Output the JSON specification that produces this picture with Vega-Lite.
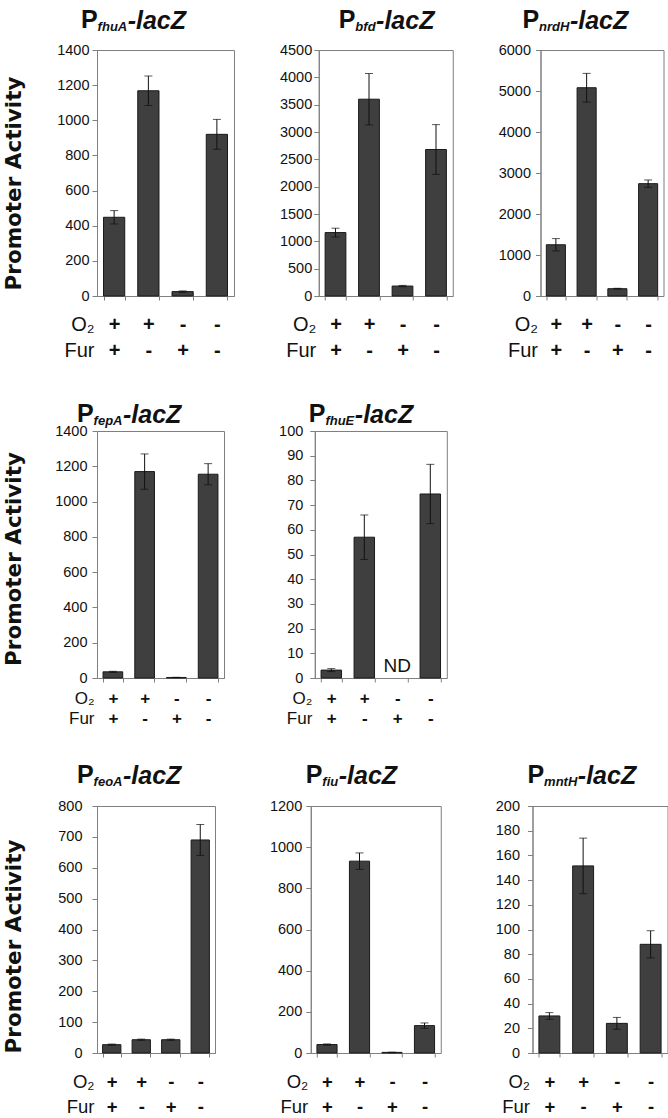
{
  "$schema": "https://vega.github.io/schema/vega-lite/v6.json",
  "background": "white",
  "padding": {"left": 2, "top": 7, "right": 0, "bottom": 0},
  "datasets": {
    "expr": [
      {"panel": "fhuA", "cond": "+|+", "v": 448, "e": 38},
      {"panel": "fhuA", "cond": "+|-", "v": 1168, "e": 84},
      {"panel": "fhuA", "cond": "-|+", "v": 25, "e": 4},
      {"panel": "fhuA", "cond": "-|-", "v": 920, "e": 85},
      {"panel": "bfd", "cond": "+|+", "v": 1160, "e": 80},
      {"panel": "bfd", "cond": "+|-", "v": 3600, "e": 470},
      {"panel": "bfd", "cond": "-|+", "v": 182, "e": 12},
      {"panel": "bfd", "cond": "-|-", "v": 2680, "e": 455},
      {"panel": "nrdH", "cond": "+|+", "v": 1250, "e": 150},
      {"panel": "nrdH", "cond": "+|-", "v": 5080, "e": 350},
      {"panel": "nrdH", "cond": "-|+", "v": 178, "e": 10},
      {"panel": "nrdH", "cond": "-|-", "v": 2740, "e": 90},
      {"panel": "fepA", "cond": "+|+", "v": 35, "e": 3},
      {"panel": "fepA", "cond": "+|-", "v": 1170, "e": 100},
      {"panel": "fepA", "cond": "-|+", "v": 3, "e": 1},
      {"panel": "fepA", "cond": "-|-", "v": 1155, "e": 60},
      {"panel": "fhuE", "cond": "+|+", "v": 3.2, "e": 0.6},
      {"panel": "fhuE", "cond": "+|-", "v": 57, "e": 9},
      {"panel": "fhuE", "cond": "-|-", "v": 74.5, "e": 12},
      {"panel": "feoA", "cond": "+|+", "v": 27, "e": 2},
      {"panel": "feoA", "cond": "+|-", "v": 43, "e": 2},
      {"panel": "feoA", "cond": "-|+", "v": 43, "e": 2},
      {"panel": "feoA", "cond": "-|-", "v": 690, "e": 50},
      {"panel": "fiu", "cond": "+|+", "v": 41, "e": 3},
      {"panel": "fiu", "cond": "+|-", "v": 932, "e": 40},
      {"panel": "fiu", "cond": "-|+", "v": 3, "e": 1},
      {"panel": "fiu", "cond": "-|-", "v": 133, "e": 13},
      {"panel": "mntH", "cond": "+|+", "v": 30, "e": 2.7},
      {"panel": "mntH", "cond": "+|-", "v": 151.5, "e": 22.5},
      {"panel": "mntH", "cond": "-|+", "v": 24, "e": 4.8},
      {"panel": "mntH", "cond": "-|-", "v": 88, "e": 11}
    ],
    "notes": [
      {"panel": "fhuE", "cond": "-|+", "note": "ND", "base": 0}
    ]
  },
  "config": {
    "view": {"stroke": "#7f7f7f", "strokeWidth": 1},
    "axis": {"grid": false},
    "title": {"anchor": "start", "align": "left", "frame": "group", "offset": -26, "subtitlePadding": -12, "font": "Liberation Sans", "fontSize": 25, "fontWeight": "bold", "color": "#111111", "subtitleFont": "Liberation Sans", "subtitleFontSize": 13, "subtitleFontWeight": "bold", "subtitleFontStyle": "italic", "subtitleColor": "#111111"},
    "axisBottom": {"labelExpr": "split(datum.label, '|')", "labelFont": "Liberation Sans", "labelFontWeight": "bold", "labelColor": "#111111", "labelAngle": 0, "labelBaseline": "top", "labelOverlap": false, "labelBound": false, "tickBand": "extent", "tickSize": 4, "tickColor": "#808080", "domainColor": "#808080", "titleFont": "Liberation Sans", "titleFontWeight": "normal", "titleColor": "#111111", "titleAlign": "right", "titleBaseline": "top", "titleX": -3},
    "axisTop": {"labels": false, "ticks": false, "domain": false, "titleFont": "Liberation Sans", "titleFontSize": 25, "titleFontWeight": "bold", "titleFontStyle": "italic", "titleColor": "#111111", "titleAlign": "left", "titleBaseline": "alphabetic"},
    "axisLeft": {"format": "d", "labelFont": "Liberation Sans", "labelFontSize": 14.5, "labelColor": "#111111", "labelFlush": false, "labelOverlap": false, "tickSize": 5, "tickColor": "#808080", "domainColor": "#808080", "titleFont": "DejaVu Sans", "titleFontSize": 21.5, "titleFontWeight": "bold", "titleColor": "#111111"}
  },
  "spacing": 40,
  "vconcat": [
    {
      "hconcat": [
        {
          "width": 137, "height": 246,
          "data": {"name": "expr"},
          "transform": [{"filter": "datum.panel === 'fhuA'"}],
          "title": {"text": "P", "subtitle": "\u200b\u2003\u00a0fhuA", "dx": -16},
          "encoding": {
            "y": {"field": "v", "type": "quantitative", "scale": {"domain": [0, 1400], "nice": false}, "axis": {"orient": "left", "format": "d", "values": [0, 200, 400, 600, 800, 1000, 1200, 1400], "title": "Promoter Activity", "titlePadding": 31.25, "titleY": 133, "labelPadding": 3}}
          },
          "layer": [
            {"mark": {"type": "bar", "fill": "#3f3f3f", "stroke": "#1a1a1a", "strokeWidth": 1},
             "encoding": {
               "x": {"field": "cond", "type": "nominal", "sort": ["+|+", "+|-", "-|+", "-|-"], "scale": {"paddingInner": 0.38, "paddingOuter": 0.19}, "axis": {"orient": "bottom", "title": ["O₂", "Fur"], "labelFontSize": 20, "labelLineHeight": 25.5, "labelPadding": 14.5, "titleFontSize": 20, "titleLineHeight": 25.5, "titleY": 18.5}}
             }},
            {"mark": {"type": "errorbar", "ticks": {"size": 8, "color": "#111111"}, "rule": {"color": "#111111"}},
             "encoding": {
               "x": {"field": "cond", "type": "nominal", "sort": ["+|+", "+|-", "-|+", "-|-"], "axis": {"orient": "top", "title": "-lacZ", "titleX": 30.2, "titleY": -22}},
               "yError": {"field": "e"}
             }}
          ],
          "resolve": {"axis": {"x": "independent"}}
        },
        {
          "width": 134, "height": 246,
          "data": {"name": "expr"},
          "transform": [{"filter": "datum.panel === 'bfd'"}],
          "title": {"text": "P", "subtitle": "\u200b\u2003\u00a0bfd", "dx": 20},
          "encoding": {
            "y": {"field": "v", "type": "quantitative", "scale": {"domain": [0, 4500], "nice": false}, "axis": {"orient": "left", "format": "d", "values": [0, 500, 1000, 1500, 2000, 2500, 3000, 3500, 4000, 4500], "title": null, "labelPadding": 2}}
          },
          "layer": [
            {"mark": {"type": "bar", "fill": "#3f3f3f", "stroke": "#1a1a1a", "strokeWidth": 1},
             "encoding": {
               "x": {"field": "cond", "type": "nominal", "sort": ["+|+", "+|-", "-|+", "-|-"], "scale": {"paddingInner": 0.38, "paddingOuter": 0.19}, "axis": {"orient": "bottom", "title": ["O₂", "Fur"], "labelFontSize": 20, "labelLineHeight": 25.5, "labelPadding": 14.5, "titleFontSize": 20, "titleLineHeight": 25.5, "titleY": 18.5}}
             }},
            {"mark": {"type": "errorbar", "ticks": {"size": 8, "color": "#111111"}, "rule": {"color": "#111111"}},
             "encoding": {
               "x": {"field": "cond", "type": "nominal", "sort": ["+|+", "+|-", "-|+", "-|-"], "axis": {"orient": "top", "title": "-lacZ", "titleX": 56.8, "titleY": -22}},
               "yError": {"field": "e"}
             }}
          ],
          "resolve": {"axis": {"x": "independent"}}
        },
        {
          "width": 123, "height": 246,
          "data": {"name": "expr"},
          "transform": [{"filter": "datum.panel === 'nrdH'"}],
          "title": {"text": "P", "subtitle": "\u200b\u2003\u00a0nrdH", "dx": -18},
          "encoding": {
            "y": {"field": "v", "type": "quantitative", "scale": {"domain": [0, 6000], "nice": false}, "axis": {"orient": "left", "format": "d", "values": [0, 1000, 2000, 3000, 4000, 5000, 6000], "title": null, "labelPadding": 5}}
          },
          "layer": [
            {"mark": {"type": "bar", "fill": "#3f3f3f", "stroke": "#1a1a1a", "strokeWidth": 1},
             "encoding": {
               "x": {"field": "cond", "type": "nominal", "sort": ["+|+", "+|-", "-|+", "-|-"], "scale": {"paddingInner": 0.38, "paddingOuter": 0.19}, "axis": {"orient": "bottom", "title": ["O₂", "Fur"], "labelFontSize": 20, "labelLineHeight": 25.5, "labelPadding": 14.5, "titleFontSize": 20, "titleLineHeight": 25.5, "titleY": 18.5}}
             }},
            {"mark": {"type": "errorbar", "ticks": {"size": 8, "color": "#111111"}, "rule": {"color": "#111111"}},
             "encoding": {
               "x": {"field": "cond", "type": "nominal", "sort": ["+|+", "+|-", "-|+", "-|-"], "axis": {"orient": "top", "title": "-lacZ", "titleX": 28.9, "titleY": -22}},
               "yError": {"field": "e"}
             }}
          ],
          "resolve": {"axis": {"x": "independent"}}
        }
      ],
      "spacing": 43.75
    },
    {
      "spacing": 34,
      "vconcat": [
        {
          "hconcat": [
            {
              "width": 127, "height": 247,
              "data": {"name": "expr"},
              "transform": [{"filter": "datum.panel === 'fepA'"}],
              "title": {"text": "P", "subtitle": "\u200b\u2003\u00a0fepA", "dx": -20},
              "encoding": {
                "y": {"field": "v", "type": "quantitative", "scale": {"domain": [0, 1400], "nice": false}, "axis": {"orient": "left", "format": "d", "values": [0, 200, 400, 600, 800, 1000, 1200, 1400], "title": "Promoter Activity", "titlePadding": 29.25, "titleY": 127.5, "labelPadding": 5}}
              },
              "layer": [
                {"mark": {"type": "bar", "fill": "#3f3f3f", "stroke": "#1a1a1a", "strokeWidth": 1},
                 "encoding": {
                   "x": {"field": "cond", "type": "nominal", "sort": ["+|+", "+|-", "-|+", "-|-"], "scale": {"paddingInner": 0.38, "paddingOuter": 0.19}, "axis": {"orient": "bottom", "title": ["O₂", "Fur"], "labelFontSize": 17, "labelLineHeight": 20, "labelPadding": 8.7, "titleFontSize": 17, "titleLineHeight": 20, "titleY": 12.7}}
                 }},
                {"mark": {"type": "errorbar", "ticks": {"size": 8, "color": "#111111"}, "rule": {"color": "#111111"}},
                 "encoding": {
                   "x": {"field": "cond", "type": "nominal", "sort": ["+|+", "+|-", "-|+", "-|-"], "axis": {"orient": "top", "title": "-lacZ", "titleX": 25.5, "titleY": -9}},
                   "yError": {"field": "e"}
                 }}
              ],
              "resolve": {"axis": {"x": "independent"}}
            },
            {
              "width": 132, "height": 247,
              "data": {"name": "expr"},
              "transform": [{"filter": "datum.panel === 'fhuE'"}],
              "title": {"text": "P", "subtitle": "\u200b\u2003\u00a0fhuE", "dx": -6},
              "encoding": {
                "y": {"field": "v", "type": "quantitative", "scale": {"domain": [0, 100], "nice": false}, "axis": {"orient": "left", "format": "d", "values": [0, 10, 20, 30, 40, 50, 60, 70, 80, 90, 100], "title": null, "labelPadding": 7}}
              },
              "layer": [
                {"mark": {"type": "bar", "fill": "#3f3f3f", "stroke": "#1a1a1a", "strokeWidth": 1},
                 "encoding": {
                   "x": {"field": "cond", "type": "nominal", "sort": ["+|+", "+|-", "-|+", "-|-"], "scale": {"domain": ["+|+", "+|-", "-|+", "-|-"], "paddingInner": 0.38, "paddingOuter": 0.19}, "axis": {"orient": "bottom", "title": ["O₂", "Fur"], "labelFontSize": 17, "labelLineHeight": 20, "labelPadding": 8.7, "titleFontSize": 17, "titleLineHeight": 20, "titleY": 12.7}}
                 }},
                {"mark": {"type": "errorbar", "ticks": {"size": 8, "color": "#111111"}, "rule": {"color": "#111111"}},
                 "encoding": {
                   "x": {"field": "cond", "type": "nominal", "sort": ["+|+", "+|-", "-|+", "-|-"], "axis": {"orient": "top", "title": "-lacZ", "titleX": 39.5, "titleY": -9}},
                   "yError": {"field": "e"}
                 }},
                {"data": {"name": "notes"},
                 "mark": {"type": "text", "font": "Liberation Sans", "fontSize": 19, "fill": "#111111", "baseline": "alphabetic", "dy": -6},
                 "encoding": {
                   "x": {"field": "cond", "type": "nominal", "sort": ["+|+", "+|-", "-|+", "-|-"], "axis": null},
                   "y": {"field": "base", "type": "quantitative", "axis": {"orient": "left", "format": "d", "values": [0, 10, 20, 30, 40, 50, 60, 70, 80, 90, 100], "title": null, "labelPadding": 7}},
                   "text": {"field": "note", "type": "nominal"}
                 }}
              ],
              "resolve": {"axis": {"x": "independent"}}
            }
          ],
          "spacing": 52.8
        },
        {
          "hconcat": [
            {
              "width": 118, "height": 247,
              "data": {"name": "expr"},
              "transform": [{"filter": "datum.panel === 'feoA'"}],
              "title": {"text": "P", "subtitle": "\u200b\u2003\u00a0feoA", "dx": -20},
              "encoding": {
                "y": {"field": "v", "type": "quantitative", "scale": {"domain": [0, 800], "nice": false}, "axis": {"orient": "left", "format": "d", "values": [0, 100, 200, 300, 400, 500, 600, 700, 800], "title": "Promoter Activity", "titlePadding": 32.3, "titleY": 140, "labelPadding": 10}}
              },
              "layer": [
                {"mark": {"type": "bar", "fill": "#3f3f3f", "stroke": "#1a1a1a", "strokeWidth": 1},
                 "encoding": {
                   "x": {"field": "cond", "type": "nominal", "sort": ["+|+", "+|-", "-|+", "-|-"], "scale": {"paddingInner": 0.38, "paddingOuter": 0.19}, "axis": {"orient": "bottom", "title": ["O₂", "Fur"], "labelFontSize": 18.5, "labelLineHeight": 25, "labelPadding": 15.6, "titleFontSize": 18.5, "titleLineHeight": 25, "titleY": 19.6}}
                 }},
                {"mark": {"type": "errorbar", "ticks": {"size": 8, "color": "#111111"}, "rule": {"color": "#111111"}},
                 "encoding": {
                   "x": {"field": "cond", "type": "nominal", "sort": ["+|+", "+|-", "-|+", "-|-"], "axis": {"orient": "top", "title": "-lacZ", "titleX": 25.5, "titleY": -23}},
                   "yError": {"field": "e"}
                 }}
              ],
              "resolve": {"axis": {"x": "independent"}}
            },
            {
              "width": 130, "height": 247,
              "data": {"name": "expr"},
              "transform": [{"filter": "datum.panel === 'fiu'"}],
              "title": {"text": "P", "subtitle": "\u200b\u2003\u00a0fiu", "dx": -5},
              "encoding": {
                "y": {"field": "v", "type": "quantitative", "scale": {"domain": [0, 1200], "nice": false}, "axis": {"orient": "left", "format": "d", "values": [0, 200, 400, 600, 800, 1000, 1200], "title": null, "labelPadding": 4}}
              },
              "layer": [
                {"mark": {"type": "bar", "fill": "#3f3f3f", "stroke": "#1a1a1a", "strokeWidth": 1},
                 "encoding": {
                   "x": {"field": "cond", "type": "nominal", "sort": ["+|+", "+|-", "-|+", "-|-"], "scale": {"paddingInner": 0.38, "paddingOuter": 0.19}, "axis": {"orient": "bottom", "title": ["O₂", "Fur"], "labelFontSize": 18.5, "labelLineHeight": 25, "labelPadding": 15.6, "titleFontSize": 18.5, "titleLineHeight": 25, "titleY": 19.6}}
                 }},
                {"mark": {"type": "errorbar", "ticks": {"size": 8, "color": "#111111"}, "rule": {"color": "#111111"}},
                 "encoding": {
                   "x": {"field": "cond", "type": "nominal", "sort": ["+|+", "+|-", "-|+", "-|-"], "axis": {"orient": "top", "title": "-lacZ", "titleX": 27.5, "titleY": -23}},
                   "yError": {"field": "e"}
                 }}
              ],
              "resolve": {"axis": {"x": "independent"}}
            },
            {
              "width": 135, "height": 247,
              "data": {"name": "expr"},
              "transform": [{"filter": "datum.panel === 'mntH'"}],
              "title": {"text": "P", "subtitle": "\u200b\u2003\u00a0mntH", "dx": -5},
              "encoding": {
                "y": {"field": "v", "type": "quantitative", "scale": {"domain": [0, 200], "nice": false}, "axis": {"orient": "left", "format": "d", "values": [0, 20, 40, 60, 80, 100, 120, 140, 160, 180, 200], "title": null, "labelPadding": 8}}
              },
              "layer": [
                {"mark": {"type": "bar", "fill": "#3f3f3f", "stroke": "#1a1a1a", "strokeWidth": 1},
                 "encoding": {
                   "x": {"field": "cond", "type": "nominal", "sort": ["+|+", "+|-", "-|+", "-|-"], "scale": {"paddingInner": 0.38, "paddingOuter": 0.19}, "axis": {"orient": "bottom", "title": ["O₂", "Fur"], "labelFontSize": 18.5, "labelLineHeight": 25, "labelPadding": 15.6, "titleFontSize": 18.5, "titleLineHeight": 25, "titleY": 19.6}}
                 }},
                {"mark": {"type": "errorbar", "ticks": {"size": 8, "color": "#111111"}, "rule": {"color": "#111111"}},
                 "encoding": {
                   "x": {"field": "cond", "type": "nominal", "sort": ["+|+", "+|-", "-|+", "-|-"], "axis": {"orient": "top", "title": "-lacZ", "titleX": 44.8, "titleY": -23}},
                   "yError": {"field": "e"}
                 }}
              ],
              "resolve": {"axis": {"x": "independent"}}
            }
          ],
          "spacing": 52.75
        }
      ]
    }
  ]
}
